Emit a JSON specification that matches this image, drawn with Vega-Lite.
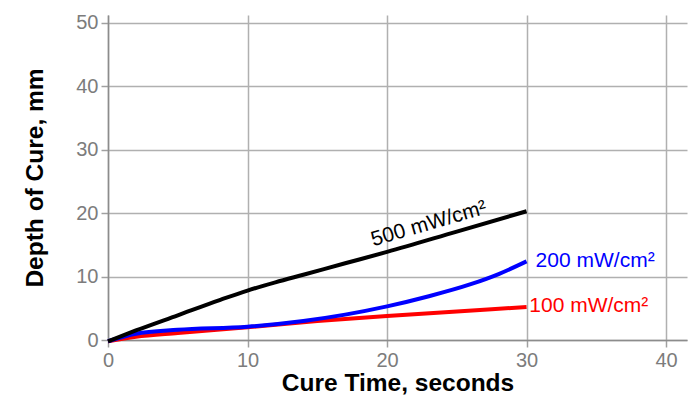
{
  "$schema": "https://vega.github.io/schema/vega-lite/v6.json",
  "width": 579,
  "height": 325,
  "autosize": {"type": "none"},
  "padding": {"left": 108, "top": 15, "right": 7, "bottom": 64},
  "background": "white",
  "config": {
    "font": "Liberation Sans",
    "view": {"stroke": null},
    "axis": {
      "gridColor": "#b0b0b0",
      "gridWidth": 1.5,
      "tickColor": "#a0a0a0",
      "tickSize": 7,
      "tickWidth": 1.5,
      "domainColor": "#8c8c8c",
      "domainWidth": 1.5,
      "labelColor": "#7c7c7c",
      "labelFontSize": 20,
      "labelFont": "Liberation Sans",
      "labelPadding": 3,
      "labelFlush": false,
      "labelOverlap": false,
      "titleFont": "Liberation Sans",
      "titleFontSize": 24.5,
      "titleFontWeight": "bold",
      "titleColor": "black"
    }
  },
  "datasets": {
    "curves": [
      {"series": "100", "t": 0, "depth": -0.2},
      {"series": "100", "t": 2, "depth": 0.5},
      {"series": "100", "t": 5, "depth": 1.1},
      {"series": "100", "t": 10, "depth": 2.0},
      {"series": "100", "t": 15, "depth": 3.0},
      {"series": "100", "t": 20, "depth": 3.8},
      {"series": "100", "t": 25, "depth": 4.5},
      {"series": "100", "t": 30, "depth": 5.2},
      {"series": "200", "t": 0, "depth": -0.2},
      {"series": "200", "t": 2, "depth": 1.0},
      {"series": "200", "t": 5, "depth": 1.6},
      {"series": "200", "t": 10, "depth": 2.1},
      {"series": "200", "t": 14, "depth": 3.0},
      {"series": "200", "t": 17, "depth": 4.0},
      {"series": "200", "t": 20, "depth": 5.3},
      {"series": "200", "t": 23, "depth": 6.9},
      {"series": "200", "t": 26, "depth": 8.8},
      {"series": "200", "t": 28, "depth": 10.4},
      {"series": "200", "t": 30, "depth": 12.4},
      {"series": "500", "t": 0, "depth": -0.2},
      {"series": "500", "t": 2, "depth": 1.5},
      {"series": "500", "t": 5, "depth": 3.9},
      {"series": "500", "t": 8, "depth": 6.3},
      {"series": "500", "t": 10, "depth": 7.8},
      {"series": "500", "t": 12, "depth": 9.1},
      {"series": "500", "t": 14, "depth": 10.3},
      {"series": "500", "t": 17, "depth": 12.1},
      {"series": "500", "t": 20, "depth": 13.9},
      {"series": "500", "t": 25, "depth": 17.1},
      {"series": "500", "t": 30, "depth": 20.3}
    ],
    "labels": [
      {"series": "500", "label": "500 mW/cm²", "t": 23.0, "depth": 18.3},
      {"series": "200", "label": "200 mW/cm²", "t": 30.65, "depth": 11.5},
      {"series": "100", "label": "100 mW/cm²", "t": 30.2, "depth": 4.4}
    ]
  },
  "layer": [
    {
      "data": {"name": "curves"},
      "mark": {"type": "line", "strokeWidth": 4, "interpolate": "monotone", "clip": false},
      "encoding": {
        "x": {
          "field": "t", "type": "quantitative",
          "scale": {"domain": [0, 41.5], "nice": false},
          "axis": {"values": [0, 10, 20, 30, 40], "title": "Cure Time, seconds", "titlePadding": 1, "grid": true}
        },
        "y": {
          "field": "depth", "type": "quantitative",
          "scale": {"domain": [0, 51.26], "nice": false},
          "axis": {"values": [0, 10, 20, 30, 40, 50], "title": "Depth of Cure, mm", "titlePadding": 28, "grid": true}
        },
        "color": {
          "field": "series", "type": "nominal",
          "scale": {"domain": ["100", "200", "500"], "range": ["#ff0000", "#0000ff", "#000000"]},
          "legend": null
        }
      }
    },
    {
      "data": {"name": "labels"},
      "transform": [{"filter": "datum.series == '500'"}],
      "mark": {"type": "text", "fontSize": 21, "angle": -16, "align": "center", "baseline": "middle", "clip": false},
      "encoding": {
        "x": {"field": "t", "type": "quantitative"},
        "y": {"field": "depth", "type": "quantitative"},
        "text": {"field": "label"},
        "color": {"field": "series", "type": "nominal", "legend": null}
      }
    },
    {
      "data": {"name": "labels"},
      "transform": [{"filter": "datum.series != '500'"}],
      "mark": {"type": "text", "fontSize": 21, "align": "left", "baseline": "alphabetic", "clip": false},
      "encoding": {
        "x": {"field": "t", "type": "quantitative"},
        "y": {"field": "depth", "type": "quantitative"},
        "text": {"field": "label"},
        "color": {"field": "series", "type": "nominal", "legend": null}
      }
    }
  ]
}
